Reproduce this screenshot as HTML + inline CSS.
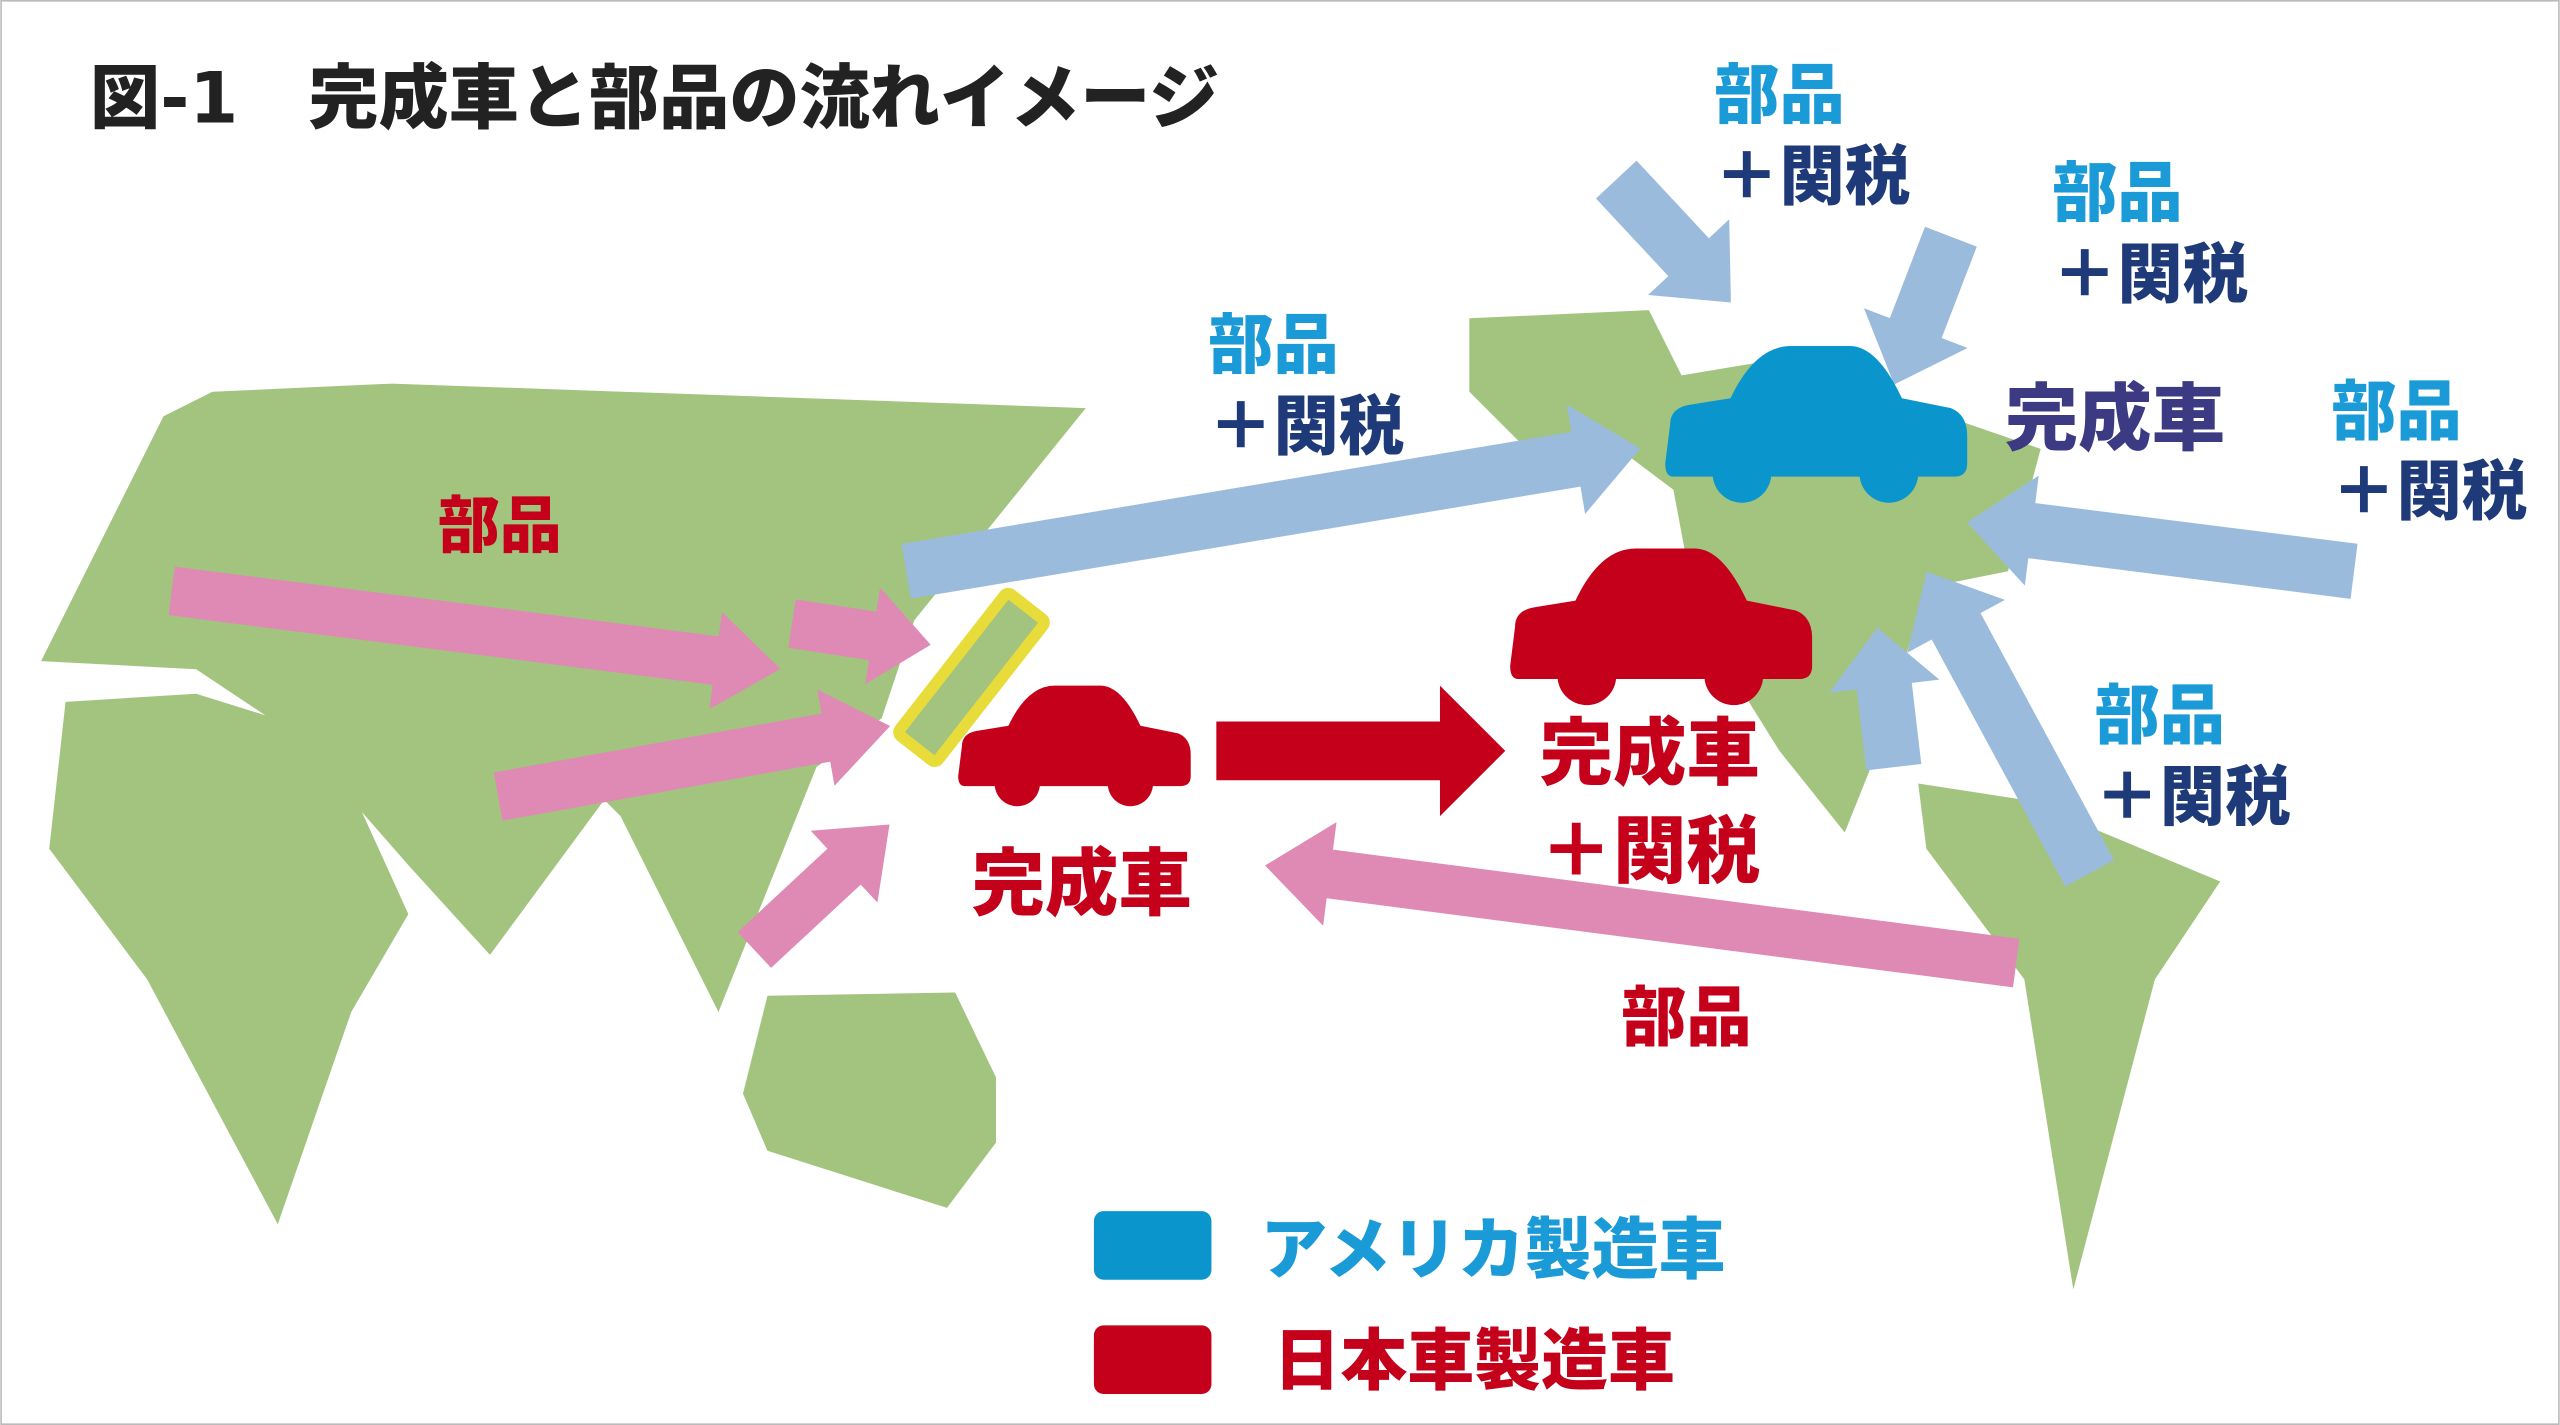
<!DOCTYPE html>
<html><head><meta charset="utf-8"><style>
html,body{margin:0;padding:0;background:#fff;}
svg{display:block;}
text{font-family:"DejaVu Sans","Noto Sans CJK JP Black","Noto Sans CJK JP Bold","Noto Sans CJK JP",sans-serif;font-weight:900;}
</style></head><body>
<svg width="2560" height="1425" viewBox="0 0 1568 873" xmlns="http://www.w3.org/2000/svg">
<defs>
<path id="car" d="M8,48 Q8,38 20,36 L45,32 Q60,0 82,0 L118,0 Q135,0 150,32 L180,38 Q190,42 190,55 L190,72 Q190,80 182,80 L10,80 Q5,80 5,72 Z"/>
</defs>
<rect x="0.5" y="0.5" width="1567" height="872" fill="#fff" stroke="#bbb"/>
<g fill="#a3c47f">
<polygon points="25,405 100,255 130,240 240,235 665,250 560,380 540,440 500,470 440,620 380,500 370,490 300,585 250,530 180,450 120,410"/>
<polygon points="40,430 120,425 200,450 250,560 215,620 170,750 90,600 30,520"/>
<polygon points="470,610 585,608 610,660 610,700 580,740 470,705 455,670"/>
<polygon points="900,195 1010,190 1030,230 1090,220 1250,275 1230,350 1180,360 1150,460 1130,510 1090,460 1040,380 1025,300 985,270 930,270 900,240"/>
<polygon points="1175,480 1240,490 1360,540 1320,600 1270,790 1240,600 1180,520"/>
</g>
<g fill="#de8ab4">
<g transform="translate(105,362) rotate(7.3)"><polygon points="0,-15 336,-15 336,-30 376,0 336,30 336,15 0,15"/></g>
<g transform="translate(485,382) rotate(8.7)"><polygon points="0,-15 50,-15 50,-30 86,0 50,30 50,15 0,15"/></g>
<g transform="translate(305,488) rotate(-10.2)"><polygon points="0,-15 204,-15 204,-30 244,0 204,30 204,15 0,15"/></g>
<g transform="translate(462,582) rotate(-42.9)"><polygon points="0,-15 75,-15 75,-30 113,0 75,30 75,15 0,15"/></g>
<g transform="translate(1235,590) rotate(187.4)"><polygon points="0,-15 424,-15 424,-32 464,0 424,32 424,15 0,15"/></g>
</g>
<g fill="#9bbbdc">
<g transform="translate(555,350) rotate(-9.5)"><polygon points="0,-17 416,-17 416,-34 456,0 416,34 416,17 0,17"/></g>
<g transform="translate(990,110) rotate(47)"><polygon points="0,-17 65,-17 65,-34 103,0 65,34 65,17 0,17"/></g>
<g transform="translate(1195,145) rotate(111)"><polygon points="0,-17 60,-17 60,-34 97,0 60,34 60,17 0,17"/></g>
<g transform="translate(1442,350) rotate(187.2)"><polygon points="0,-17 199,-17 199,-34 239,0 199,34 199,17 0,17"/></g>
<g transform="translate(1160,470) rotate(-96.7)"><polygon points="0,-17 50,-17 50,-34 86,0 50,34 50,17 0,17"/></g>
<g transform="translate(1280,535) rotate(-118.4)"><polygon points="0,-17 172,-17 172,-34 210,0 172,34 172,17 0,17"/></g>
</g>
<polygon fill="#c4001a" points="745,442 882,442 882,420 922,460 882,500 882,478 745,478"/>
<g transform="translate(595,415) rotate(-52)"><rect x="-55" y="-15" width="110" height="30" fill="#a3c47f" stroke="#e8dc3a" stroke-width="7" rx="3"/></g>
<g fill="#0a96cd" transform="translate(1015,212)"><use href="#car"/><circle cx="52" cy="78" r="18"/><circle cx="142" cy="78" r="18"/></g>
<g fill="#c4001a" transform="translate(920,336)"><use href="#car"/><circle cx="52" cy="78" r="18"/><circle cx="142" cy="78" r="18"/></g>
<g fill="#c4001a" transform="translate(583,420) scale(0.77)"><use href="#car"/><circle cx="52" cy="78" r="18"/><circle cx="142" cy="78" r="18"/></g>
<text x="55" y="75" font-size="43" fill="#222">図-1　完成車と部品の流れイメージ</text>
<text x="268" y="335" font-size="38" fill="#c4001a">部品</text>
<g font-size="40">
<text x="740" y="225" fill="#1a9ad6">部品</text><text x="740" y="275" fill="#1e3a78">＋関税</text>
<text x="1050" y="72" fill="#1a9ad6">部品</text><text x="1050" y="122" fill="#1e3a78">＋関税</text>
<text x="1257" y="132" fill="#1a9ad6">部品</text><text x="1257" y="182" fill="#1e3a78">＋関税</text>
<text x="1428" y="266" fill="#1a9ad6">部品</text><text x="1428" y="315" fill="#1e3a78">＋関税</text>
<text x="1283" y="452" fill="#1a9ad6">部品</text><text x="1283" y="502" fill="#1e3a78">＋関税</text>
<text x="993" y="637" fill="#c4001a">部品</text>
</g>
<g font-size="45">
<text x="1228" y="272" fill="#3b3a83">完成車</text>
<text x="595" y="557" fill="#c4001a">完成車</text>
<text x="943" y="477" fill="#c4001a">完成車</text>
<text x="943" y="537" fill="#c4001a">＋関税</text>
</g>
<rect x="670" y="742" width="72" height="42" rx="6" fill="#0a96cd"/>
<text x="772" y="780" font-size="41" fill="#1a9ad6">アメリカ製造車</text>
<rect x="670" y="812" width="72" height="42" rx="6" fill="#c4001a"/>
<text x="780" y="848" font-size="41" fill="#c4001a">日本車製造車</text>
</svg>
</body></html>
